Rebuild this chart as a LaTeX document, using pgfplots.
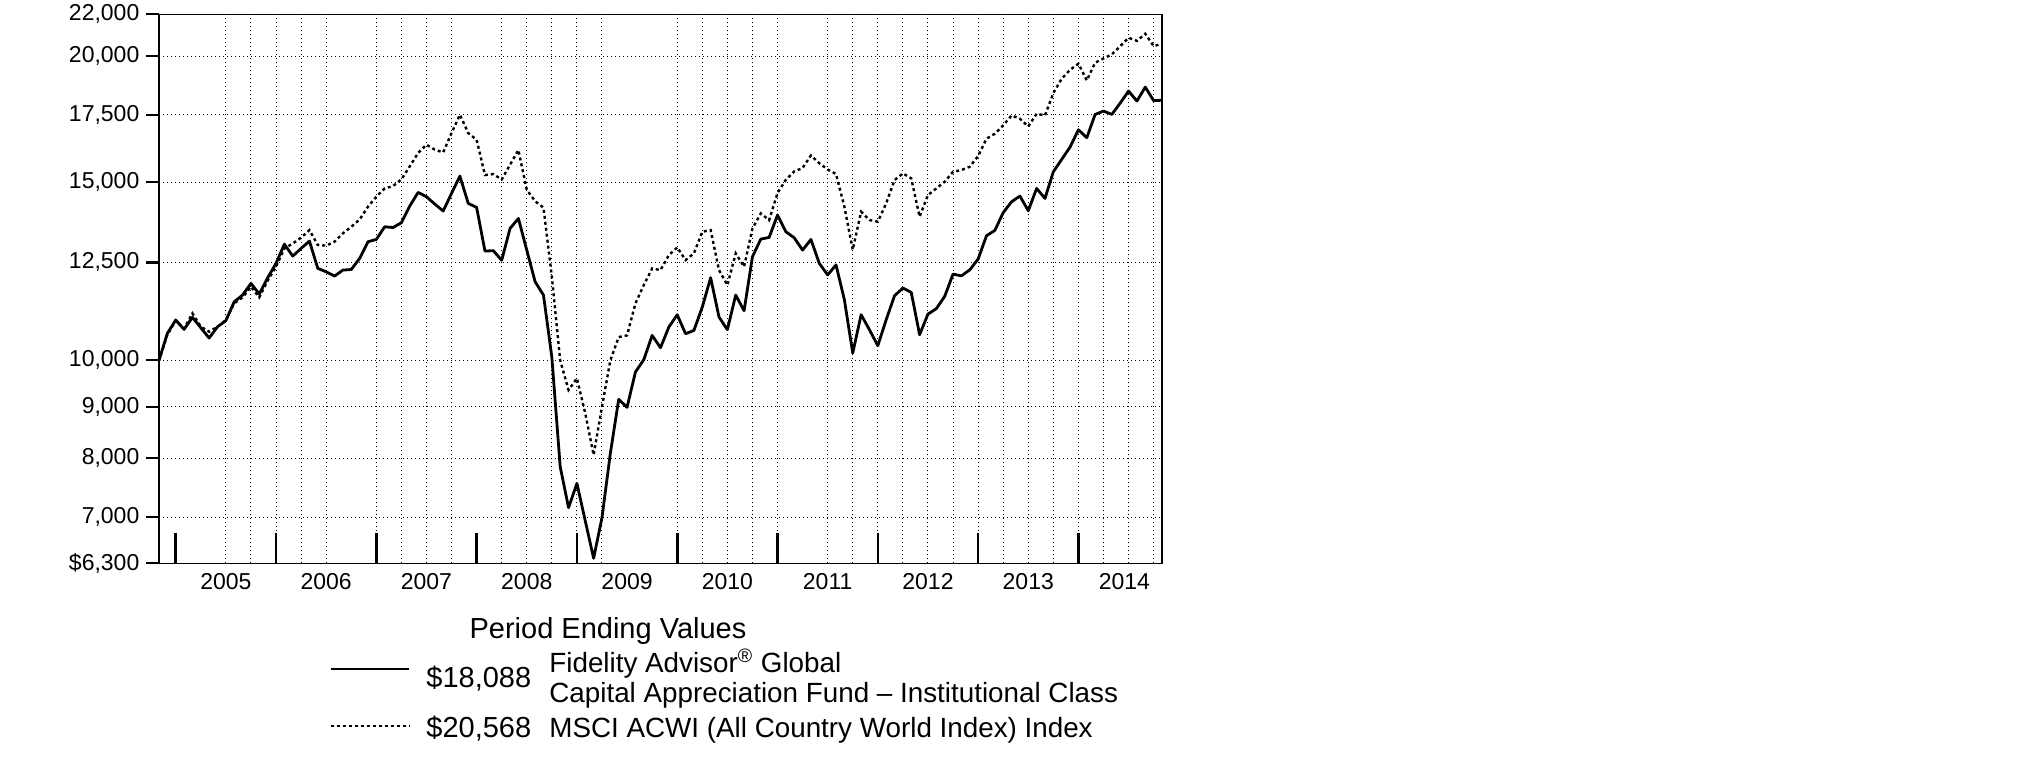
\documentclass[border=0pt]{standalone}
\usepackage{pgfplots}
\pgfplotsset{compat=1.18}
\usepackage{pgfplotstable}
\usepackage{fontspec}
\setmainfont{Liberation Sans}

\pgfplotstableread{
m v
0 10000
1 10635
2 10962
3 10732
4 11030
5 10773
6 10522
7 10797
8 10946
9 11430
10 11604
11 11917
12 11631
13 12071
14 12472
15 13033
16 12681
17 12905
18 13122
19 12330
20 12237
21 12117
22 12283
23 12300
24 12614
25 13102
26 13172
27 13557
28 13535
29 13683
30 14213
31 14662
32 14518
33 14277
34 14052
35 14629
36 15218
37 14300
38 14170
39 12827
40 12840
41 12560
42 13506
43 13817
44 12856
45 11962
46 11604
47 10076
48 7850
49 7150
50 7557
51 6937
52 6372
53 6990
54 8092
55 9151
56 8986
57 9738
58 10015
59 10586
60 10293
61 10789
62 11096
63 10626
64 10707
65 11292
66 12072
67 11037
68 10724
69 11604
70 11197
71 12662
72 13183
73 13233
74 13923
75 13405
76 13222
77 12856
78 13172
79 12472
80 12150
81 12430
82 11481
83 10168
84 11096
85 10724
86 10340
87 10970
88 11587
89 11791
90 11676
91 10602
92 11113
93 11250
94 11570
95 12172
96 12123
97 12290
98 12596
99 13283
100 13445
101 14000
102 14353
103 14540
104 14063
105 14796
106 14463
107 15369
108 15807
109 16257
110 16912
111 16607
112 17513
113 17647
114 17513
115 17972
116 18470
117 18053
118 18638
119 18070
120 18088
}\fund

\pgfplotstableread{
m v
0 10000
1 10600
2 10950
3 10750
4 11130
5 10800
6 10675
7 10797
8 10962
9 11387
10 11545
11 11826
12 11545
13 11990
14 12378
15 12905
16 13050
17 13226
18 13456
19 13006
20 12988
21 13102
22 13354
23 13557
24 13783
25 14191
26 14518
27 14797
28 14876
29 15103
30 15557
31 16037
32 16345
33 16160
34 16061
35 16784
36 17500
37 16784
38 16530
39 15253
40 15287
41 15100
42 15616
43 16150
44 14750
45 14371
46 14164
47 12098
48 10000
49 9348
50 9600
51 8865
52 8061
53 9000
54 10000
55 10546
56 10586
57 11386
58 11871
59 12330
60 12284
61 12710
62 12935
63 12567
64 12758
65 13405
66 13455
67 12284
68 11871
69 12758
70 12378
71 13506
72 13976
73 13765
74 14640
75 15092
76 15380
77 15500
78 15950
79 15670
80 15450
81 15290
82 14191
83 12866
84 14031
85 13766
86 13716
87 14300
88 15080
89 15310
90 15137
91 13872
92 14573
93 14796
94 15023
95 15369
96 15428
97 15544
98 15927
99 16568
100 16759
101 17080
102 17473
103 17342
104 17042
105 17540
106 17473
107 18386
108 18996
109 19389
110 19656
111 18923
112 19699
113 19894
114 20076
115 20460
116 20853
117 20705
118 21044
119 20460
120 20568
}\index

\begin{document}
\begin{tikzpicture}[x=1pt,y=1pt]
\useasboundingbox (-79.5,-104.85) rectangle (933,281.65);
\begin{axis}[
  at={(0,0)}, anchor=south west,
  scale only axis, width=501.5pt, height=274.5pt,
  xmin=0, xmax=120,
  ymode=log, ymin=6300, ymax=22000,
  axis line style={black, line width=0.6pt},
  tick label style={font=\fontsize{11.5}{13}\selectfont, black},
  xtick pos=left, ytick pos=left,
  ytick={6300,7000,8000,9000,10000,12500,15000,17500,20000,22000},
  yticklabels={{\$6,300},{7,000},{8,000},{9,000},{10,000},{12,500},{15,000},{17,500},{20,000},{22,000}},
  yminorticks=false,
  ymajorgrids,
  tick align=outside,
  major tick length=6.3pt,
  ytick style={black, line width=1.1pt},
  xtick={8,20,32,44,56,68,80,92,104,115.5},
  xticklabels={2005,2006,2007,2008,2009,2010,2011,2012,2013,2014},
  xticklabel style={yshift=4.5pt},
  xtick style={draw=none},
  minor xtick={8,11,14,17,20,26,29,32,35,41,44,47,50,53,62,65,68,71,74,80,83,86,89,92,95,98,101,104,107,110,113,116,119},
  xminorgrids,
  minor tick length=0pt,
  major grid style={black, line width=0.5pt, dash pattern=on 0.7pt off 1.3pt},
  minor grid style={black, line width=0.5pt, dash pattern=on 0.7pt off 1.3pt},
  extra x ticks={2,14,26,38,50,62,74,86,98,110},
  extra x tick labels={},
  extra x tick style={grid=none, tick align=inside, major tick length=15pt, xtick pos=left, xtick style={draw=black, line width=1.3pt}},
  clip=false,
]
\addplot[black, line width=1.4pt, line join=round] table[x=m, y=v] {\fund};
\addplot[black, line width=1.2pt, dash pattern=on 1.5pt off 1.5pt] table[x=m, y=v] {\index};
\end{axis}
\begin{scope}[font=\fontsize{14.5}{17}\selectfont]
\node[anchor=base, inner sep=0] at (224.5,-37.6) {Period Ending Values};
\draw[black, line width=1.35pt] (85.8,-52.9) -- (125.2,-52.9);
\node[anchor=base west, inner sep=0] at (133.5,-61.9) {\$18,088};
\draw[black, line width=1.2pt, dash pattern=on 1.5pt off 1.5pt] (85.8,-81.3) -- (125.2,-81.3);
\node[anchor=base west, inner sep=0] at (133.5,-87.1) {\$20,568};
\end{scope}
\begin{scope}[font=\fontsize{13.9}{16}\selectfont]
\node[anchor=base west, inner sep=0] at (195,-54.6) {Fidelity Advisor\textsuperscript{®} Global};
\node[anchor=base west, inner sep=0] at (195,-69.6) {Capital Appreciation Fund – Institutional Class};
\node[anchor=base west, inner sep=0] at (195,-87.1) {MSCI ACWI (All Country World Index) Index};
\end{scope}
\end{tikzpicture}
\end{document}
